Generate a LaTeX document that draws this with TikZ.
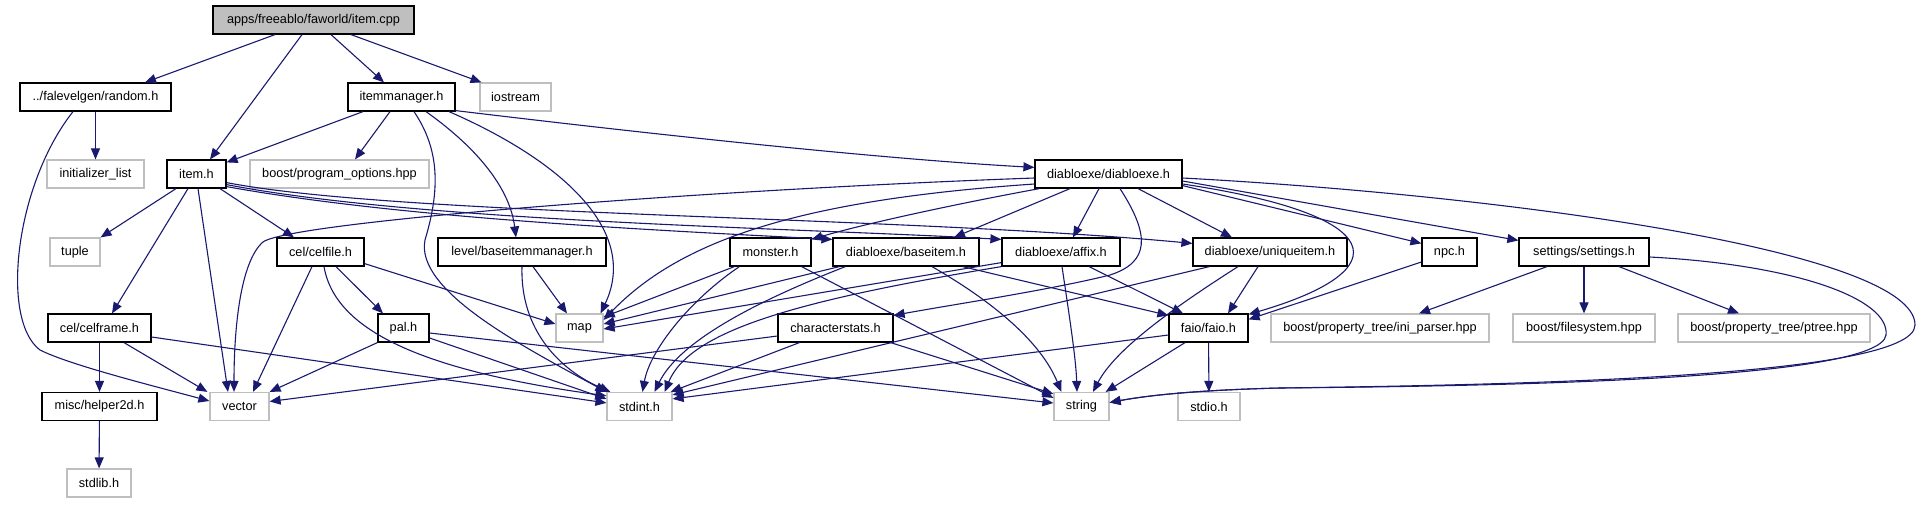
\documentclass[tikz,border=0pt]{standalone}
\usepackage{fontspec}
\setmainfont{Liberation Sans}
\usetikzlibrary{arrows.meta}
\definecolor{edgecol}{HTML}{191970}
\definecolor{grayb}{HTML}{BFBFBF}
\begin{document}
\begin{tikzpicture}[x=1pt,y=-1pt,
  box/.style={rectangle, inner sep=0pt, minimum height=28pt, font=\fontsize{12.7}{15}\selectfont, fill=white},
  inode/.style={box, draw=black, line width=1.2pt},
  enode/.style={box, draw=grayb, line width=1.2pt},
  root/.style={box, draw=black, line width=1.2pt, fill=grayb},
  dep/.style={draw=edgecol, line width=1.1pt, -{Triangle[length=11pt,width=9pt]}}]
\useasboundingbox (0,0) rectangle (1922,504);
% row 1
\node[root, minimum width=201pt] (cpp) at (313.5,20) {apps/freeablo/faworld/item.cpp};
% row 2
\node[inode, minimum width=151pt] (random) at (95.5,97) {../falevelgen/random.h};
\node[inode, minimum width=107pt] (itemmgr) at (401.5,97) {itemmanager.h};
\node[enode, minimum width=71pt] (iostream) at (515.5,97) {iostream};
% row 3
\node[enode, minimum width=97pt] (initlist) at (95.5,174) {initializer\_list};
\node[inode, minimum width=59pt] (itemh) at (196.5,174) {item.h};
\node[enode, minimum width=179pt] (progopt) at (339.5,174) {boost/program\_options.hpp};
\node[inode, minimum width=147pt] (diablo) at (1108.5,174) {diabloexe/diabloexe.h};
% row 4
\node[enode, minimum width=50pt] (tuple) at (75,252) {tuple};
\node[inode, minimum width=87pt] (celfile) at (320.5,252) {cel/celfile.h};
\node[inode, minimum width=168pt] (bimgr) at (522,252) {level/baseitemmanager.h};
\node[inode, minimum width=81pt] (monster) at (770.5,252) {monster.h};
\node[inode, minimum width=146pt] (baseitem) at (906,252) {diabloexe/baseitem.h};
\node[inode, minimum width=118pt] (affix) at (1061,252) {diabloexe/affix.h};
\node[inode, minimum width=154pt] (unique) at (1270,252) {diabloexe/uniqueitem.h};
\node[inode, minimum width=55pt] (npc) at (1449.5,252) {npc.h};
\node[inode, minimum width=130pt] (settings) at (1584,252) {settings/settings.h};
% row 5
\node[inode, minimum width=103pt] (celframe) at (99.5,328) {cel/celframe.h};
\node[inode, minimum width=51pt] (pal) at (403.5,328) {pal.h};
\node[enode, minimum width=47pt] (map) at (579.5,328) {map};
\node[inode, minimum width=115pt] (charstats) at (835.5,328) {characterstats.h};
\node[inode, minimum width=79pt] (faio) at (1208.5,328) {faio/faio.h};
\node[enode, minimum width=218pt] (ini) at (1380,328) {boost/property\_tree/ini\_parser.hpp};
\node[enode, minimum width=142pt] (fs) at (1584,328) {boost/filesystem.hpp};
\node[enode, minimum width=192pt] (ptree) at (1774,328) {boost/property\_tree/ptree.hpp};
% row 6
\node[inode, minimum width=115pt] (helper) at (99.5,406.5) {misc/helper2d.h};
\node[enode, minimum width=59pt] (vector) at (239.5,406.5) {vector};
\node[enode, minimum width=65pt] (stdint) at (639.5,406.5) {stdint.h};
\node[enode, minimum width=55pt] (string) at (1081.5,406.5) {string};
\node[enode, minimum width=62pt] (stdio) at (1209,406.5) {stdio.h};
% row 7
\node[enode, minimum width=64pt] (stdlib) at (99,483) {stdlib.h};

% item.cpp
\draw[dep] ([xshift=-38.5pt]cpp.south) -- ([xshift=49.5pt]random.north);
\draw[dep] ([xshift=-11.5pt]cpp.south) -- ([xshift=13.5pt]itemh.north);
\draw[dep] ([xshift=17.5pt]cpp.south) -- ([xshift=-17.5pt]itemmgr.north);
\draw[dep] ([xshift=37.5pt]cpp.south) -- ([xshift=-34pt]iostream.north);
% random.h
\draw[dep] (random) -- (initlist);
\draw[dep] ([xshift=-22.5pt]random.south) .. controls (15,185) and (0,320) .. (40,350) .. controls (70,365) and (150,385) .. ([yshift=5.5pt]vector.west);
% itemmanager.h
\draw[dep] ([xshift=-38.5pt]itemmgr.south) -- ([yshift=-3pt]itemh.north east);
\draw[dep] ([xshift=-11.5pt]itemmgr.south) -- ([xshift=15.5pt]progopt.north);
\draw[dep] ([xshift=12.5pt]itemmgr.south) .. controls (440,150) and (440,190) .. (425,240) .. controls (415,290) and (520,345) .. (stdint.north west);
\draw[dep] ([xshift=24.5pt]itemmgr.south) .. controls (480,150) and (510,190) .. ([xshift=-6pt]bimgr.north);
\draw[dep] ([xshift=47.5pt]itemmgr.south) .. controls (560,160) and (640,230) .. ([xshift=-3pt]map.north east);
\draw[dep] ([yshift=1pt]itemmgr.south east) .. controls (700,140) and (900,160) .. ([yshift=-8pt]diablo.north west);
% item.h
\draw[dep] ([xshift=-20.5pt]itemh.south) -- (tuple.north east);
\draw[dep] ([xshift=-8.5pt]itemh.south) -- ([xshift=12.5pt]celframe.north);
\draw[dep] ([xshift=1.5pt]itemh.south) -- ([xshift=-11.5pt]vector.north);
\draw[dep] ([xshift=23.5pt]itemh.south) -- ([xshift=-26.5pt]celfile.north);
\draw[dep] ([yshift=2pt]itemh.south east) .. controls (400,218) and (650,230) .. ([yshift=-2pt]baseitem.north west);
\draw[dep] ([yshift=4pt]itemh.south east) .. controls (420,222) and (800,228) .. ([yshift=-2pt]affix.north west);
\draw[dep] ([yshift=6pt]itemh.south east) .. controls (400,216) and (900,216) .. ([yshift=-6pt]unique.north west);
% cel/celfile.h
\draw[dep] ([xshift=15.5pt]celfile.south) -- ([xshift=-20.5pt]pal.north);
\draw[dep] ([xshift=-8.5pt]celfile.south) -- ([xshift=13.5pt]vector.north);
\draw[dep] ([xshift=3.5pt]celfile.south) .. controls (335,330) and (420,370) .. ([yshift=-4pt]stdint.north west);
\draw[dep] ([yshift=3pt]celfile.south east) -- ([yshift=4pt]map.west);
% level/baseitemmanager.h
\draw[dep] ([xshift=11pt]bimgr.south) -- ([xshift=-12.5pt]map.north);
\draw[dep] (bimgr.south) .. controls (520,330) and (560,370) .. ([xshift=4pt]stdint.north west);
% cel/celframe.h
\draw[dep] (celframe) -- (helper);
\draw[dep] ([xshift=24.5pt]celframe.south) -- ([xshift=-2pt]vector.north west);
\draw[dep] ([yshift=-9pt]celframe.east) -- ([yshift=-11pt]stdint.north west);
% pal.h
\draw[dep] (pal.south west) -- (vector.north east);
\draw[dep] ([yshift=-10pt]pal.east) -- ([yshift=-7pt]stdint.north west);
\draw[dep] ([yshift=-5pt]pal.east) -- ([yshift=3.5pt]string.west);
% monster.h
\draw[dep] ([xshift=5pt]monster.south west) -- ([yshift=11pt]map.east);
\draw[dep] ([xshift=10pt]monster.south west) .. controls (690,300) and (650,350) .. ([xshift=3pt]stdint.north);
\draw[dep] ([xshift=-10pt]monster.south east) -- ([yshift=-6pt]string.north west);
% diabloexe/baseitem.h
\draw[dep] ([xshift=7pt]baseitem.south west) -- ([yshift=4pt]map.east);
\draw[dep] ([xshift=13pt]baseitem.south west) .. controls (760,300) and (680,340) .. ([xshift=15pt]stdint.north);
\draw[dep] ([xshift=26pt]baseitem.south) .. controls (990,300) and (1040,340) .. ([xshift=8pt]string.north west);
\draw[dep] ([xshift=-17pt]baseitem.south east) -- ([yshift=-2pt]faio.north west);
% diabloexe/affix.h
\draw[dep] ([yshift=4pt]affix.south west) -- ([yshift=-1pt]map.east);
\draw[dep] (affix.south west) .. controls (800,300) and (690,330) .. ([xshift=-8pt]stdint.north east);
\draw[dep] ([xshift=1pt]affix.south) .. controls (1070,320) and (1076,360) .. ([xshift=-4.5pt]string.north);
\draw[dep] ([xshift=28pt]affix.south) -- ([xshift=-25.5pt]faio.north);
% diabloexe/uniqueitem.h
\draw[dep] ([xshift=17pt]unique.south west) -- ([yshift=-3pt]stdint.north east);
\draw[dep] ([xshift=-32pt]unique.south) .. controls (1170,310) and (1115,350) .. ([xshift=11.5pt]string.north);
\draw[dep] ([xshift=-12pt]unique.south) -- ([xshift=19.5pt]faio.north);
% characterstats.h
\draw[dep] ([yshift=-8pt]charstats.west) -- ([yshift=5pt]vector.east);
\draw[dep] ([xshift=22pt]charstats.south west) -- ([xshift=-2pt]stdint.north east);
\draw[dep] ([xshift=-3pt]charstats.south east) -- ([yshift=-2pt]string.north west);
% faio/faio.h
\draw[dep] ([yshift=-7pt]faio.west) -- ([yshift=-7pt]stdint.north east);
\draw[dep] ([xshift=-23.5pt]faio.south) -- ([xshift=-4pt]string.north east);
\draw[dep] (faio) -- (stdio);
% npc.h
\draw[dep] ([yshift=-10pt]npc.west) -- ([yshift=-6pt]faio.north east);
% settings/settings.h
\draw[dep] ([xshift=-37pt]settings.south) -- ([xshift=39pt]ini.north);
\draw[dep] (settings) -- (fs);
\draw[dep] ([xshift=35pt]settings.south) -- ([xshift=-35pt]ptree.north);
\draw[dep] ([yshift=-5pt]settings.east) .. controls (1800,265) and (1890,300) .. (1886,335) .. controls (1880,380) and (1500,386) .. (1280,388) .. controls (1200,390) and (1150,395) .. ([yshift=4pt]string.east);
% diabloexe/diabloexe.h
\draw[dep] ([yshift=-4pt]diablo.east) .. controls (1500,195) and (1915,250) .. (1915,325) .. controls (1915,378) and (1500,385) .. (1280,388) .. controls (1200,390) and (1150,395) .. ([yshift=4pt]string.east);
\draw[dep] ([yshift=-4pt]diablo.west) .. controls (700,190) and (290,222) .. (263,242) .. controls (240,262) and (234,330) .. ([xshift=-5.5pt]vector.north);
\draw[dep] ([yshift=-10pt]diablo.west) .. controls (800,200) and (680,240) .. ([yshift=8pt]map.east);
\draw[dep] ([xshift=5pt]diablo.south west) .. controls (950,205) and (860,225) .. ([yshift=-2pt]monster.north east);
\draw[dep] ([xshift=-38.5pt]diablo.south) -- ([xshift=48pt]baseitem.north);
\draw[dep] ([xshift=-9.5pt]diablo.south) -- ([xshift=12pt]affix.north);
\draw[dep] ([xshift=11.5pt]diablo.south) .. controls (1150,235) and (1150,262) .. (1110,275) .. controls (1050,290) and (950,305) .. ([yshift=-2pt]charstats.north east);
\draw[dep] ([xshift=29.5pt]diablo.south) -- ([xshift=-38pt]unique.north);
\draw[dep] ([yshift=3pt]diablo.south east) -- ([yshift=-6pt]npc.north west);
\draw[dep] ([yshift=-7pt]diablo.east) -- ([yshift=-3pt]settings.north west);
\draw[dep] ([yshift=-10pt]diablo.east) .. controls (1390,215) and (1400,270) .. ([yshift=-1pt]faio.north east);
% misc/helper2d.h
\draw[dep] (helper) -- (stdlib);
\end{tikzpicture}
\end{document}
